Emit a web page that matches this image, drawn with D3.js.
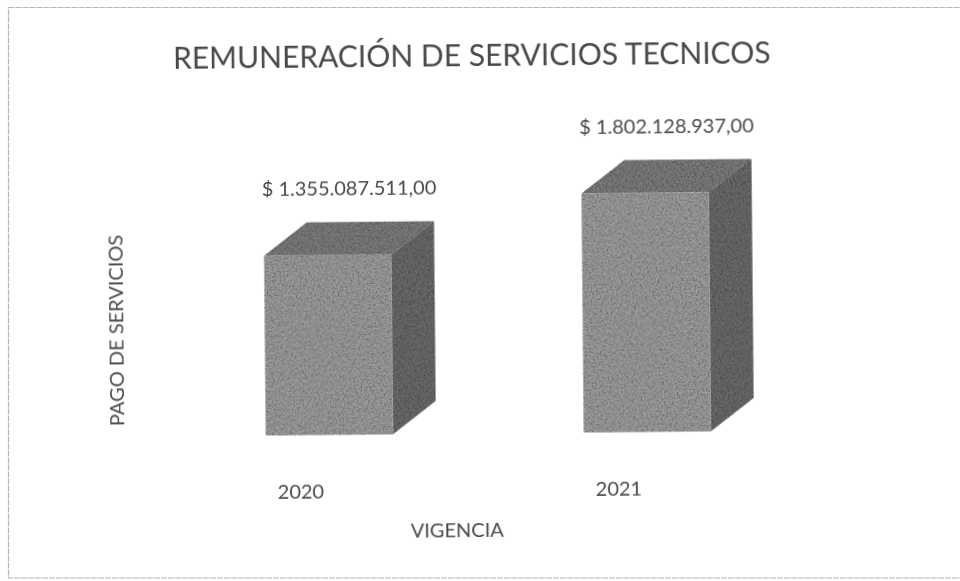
<!DOCTYPE html>
<html lang="en">
<head>
    <meta charset="UTF-8">
    <title>Remuneración de servicios técnicos</title>
    <script src="https://d3js.org/d3.v7.min.js"></script>
    <style>
        html, body { margin: 0; padding: 0; background: #fff; }
        svg { display: block; }
        text { font-family: Lato, "Open Sans", sans-serif; fill: #4a4a4a; }
        .axis path, .axis line { display: none; }
    </style>
</head>
<body>
<script>
// Values
const years = ["2020", "2021"];
const payments = [1355087511, 1802128937];
const paymentLabels = ["$ 1.355.087.511,00", "$ 1.802.128.937,00"];
const chartTitle = "REMUNERACIÓN DE SERVICIOS TECNICOS";
const xTitle = "VIGENCIA";
const yTitle = "PAGO DE SERVICIOS";

const width = 960;
const height = 581;
const baseline = 433.5;
const depthX = 43;
const depthY = 33;

const svg = d3.select("body").append("svg")
    .attr("width", width)
    .attr("height", height);

// Scanner grain for the bar faces
const defs = svg.append("defs");
const grain = defs.append("filter").attr("id", "grain")
    .attr("x", 0).attr("y", 0).attr("width", 1).attr("height", 1);
grain.append("feTurbulence")
    .attr("type", "fractalNoise")
    .attr("baseFrequency", 0.55)
    .attr("numOctaves", 2)
    .attr("seed", 4)
    .attr("result", "noise");
grain.append("feColorMatrix")
    .attr("in", "noise")
    .attr("type", "matrix")
    .attr("values", "0 0 0 0 0  0 0 0 0 0  0 0 0 0 0  0.9 0.9 0 0 -0.72")
    .attr("result", "speck");
grain.append("feComposite").attr("in", "speck").attr("in2", "SourceAlpha").attr("operator", "in").attr("result", "clipped");
const merge = grain.append("feMerge");
merge.append("feMergeNode").attr("in", "SourceGraphic");
merge.append("feMergeNode").attr("in", "clipped");

const blur = defs.append("filter").attr("id", "soft");
blur.append("feGaussianBlur").attr("stdDeviation", 0.35);

// Page frame, not rotated with the scan
svg.append("rect")
    .attr("x", 8.5).attr("y", 7.5)
    .attr("width", 970).attr("height", 570.5)
    .attr("fill", "none")
    .attr("stroke", "#b5b5b5")
    .attr("stroke-width", 1.2)
    .attr("stroke-dasharray", "6 1");

// The scan is a little crooked
const g = svg.append("g")
    .attr("transform", "rotate(-0.54 480 290)")
    .attr("filter", "url(#soft)");

const x = d3.scaleBand().domain(years).range([169, 805]).paddingInner(0.6).paddingOuter(0.3);
const y = d3.scaleLinear().domain([0, 2000000000]).range([baseline, baseline - 265.2]);

const bars = g.selectAll(".bar")
    .data(years.map((year, i) => ({year, value: payments[i], label: paymentLabels[i]})))
    .enter()
    .append("g")
    .attr("class", "bar")
    .attr("filter", "url(#grain)");

// Top face
bars.append("path")
    .attr("fill", "#7c7c7c")
    .attr("d", d => {
        const x0 = x(d.year), x1 = x0 + x.bandwidth(), t = y(d.value);
        return `M${x0},${t}L${x0 + depthX},${t - depthY}L${x1 + depthX},${t - depthY}L${x1},${t}Z`;
    });

// Side face
bars.append("path")
    .attr("fill", "#6a6a6a")
    .attr("d", d => {
        const x1 = x(d.year) + x.bandwidth(), t = y(d.value);
        return `M${x1},${t}L${x1 + depthX},${t - depthY}L${x1 + depthX},${y(0) - depthY}L${x1},${y(0)}Z`;
    });

// Front face
bars.append("rect")
    .attr("x", d => x(d.year))
    .attr("y", d => y(d.value))
    .attr("width", x.bandwidth())
    .attr("height", d => y(0) - y(d.value))
    .attr("fill", "#9c9c9c");

// Value labels
g.selectAll(".value")
    .data(years.map((year, i) => ({year, value: payments[i], label: paymentLabels[i]})))
    .enter()
    .append("text")
    .attr("class", "value")
    .attr("x", d => x(d.year) + x.bandwidth() / 2 + 22)
    .attr("y", d => y(d.value) - depthY - 27)
    .attr("text-anchor", "middle")
    .attr("font-size", 20)
    .text(d => d.label);

// Year labels sit left of the bars in the original
const xAxis = g.append("g")
    .attr("class", "axis")
    .attr("transform", `translate(-29,${baseline + 63})`)
    .call(d3.axisBottom(x).tickSize(0).tickPadding(0));
xAxis.selectAll("text")
    .attr("font-size", 20)
    .attr("dy", 0)
    .attr("y", 0)
    .style("fill", "#4a4a4a")
    .style("font-family", "Lato, sans-serif");

g.append("text")
    .attr("x", 474)
    .attr("y", 66)
    .attr("text-anchor", "middle")
    .attr("font-size", 30)
    .text(chartTitle);

g.append("text")
    .attr("x", 455)
    .attr("y", 537)
    .attr("text-anchor", "middle")
    .attr("font-size", 20)
    .text(xTitle);

g.append("text")
    .attr("transform", "translate(123,327) rotate(-90)")
    .attr("text-anchor", "middle")
    .attr("font-size", 20)
    .text(yTitle);
</script>
</body>
</html>
